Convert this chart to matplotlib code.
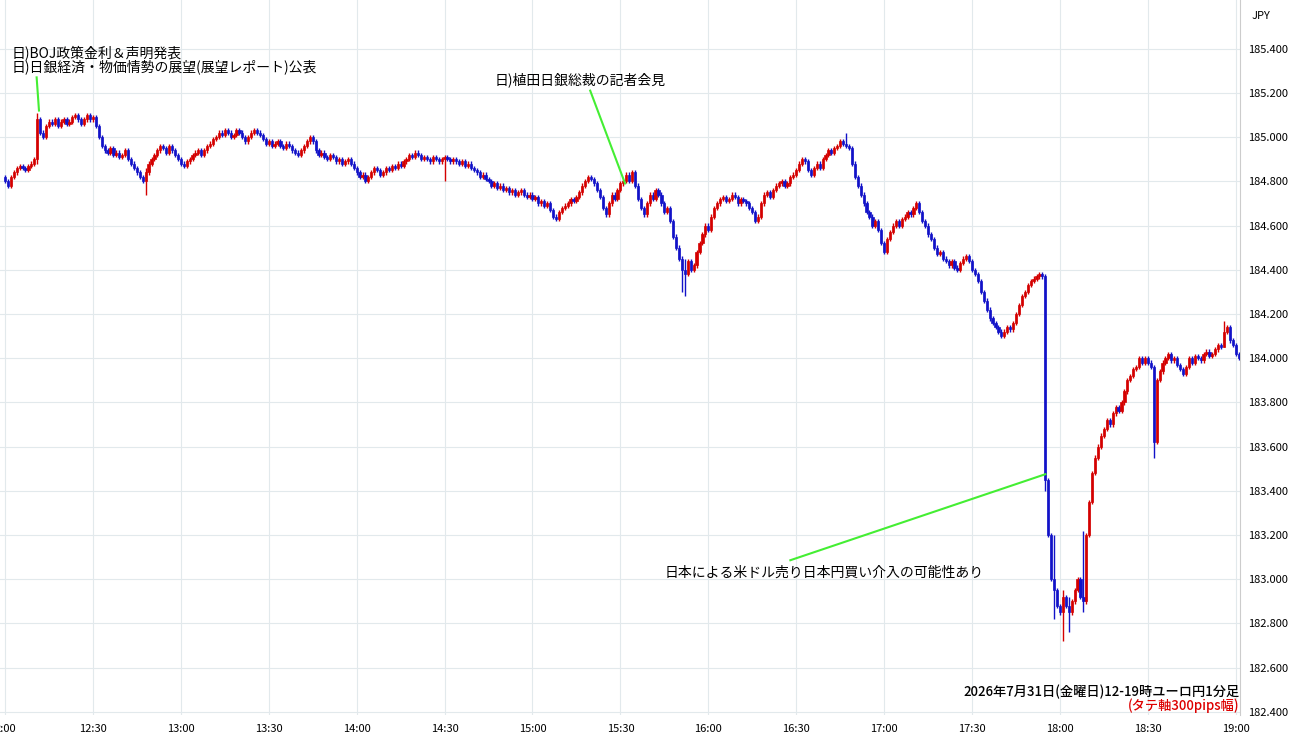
import numpy as np
import matplotlib.pyplot as plt

plt.rcParams['font.family'] = ['Noto Sans CJK JP', 'DejaVu Sans']

# 1-minute closes, 12:00 -> 19:01 (one row per 30 minutes)
closes = [
    184.80, 184.78, 184.82, 184.84, 184.86, 184.87, 184.86, 184.85, 184.87, 184.88, 184.90, 185.08, 185.02, 185.00, 185.05, 185.07, 185.06, 185.08, 185.05, 185.07, 185.08, 185.06, 185.07, 185.09, 185.10, 185.08, 185.06, 185.08, 185.10, 185.08,
    185.09, 185.05, 185.00, 184.96, 184.94, 184.93, 184.95, 184.92, 184.93, 184.91, 184.92, 184.94, 184.90, 184.88, 184.86, 184.84, 184.82, 184.80, 184.84, 184.88, 184.90, 184.92, 184.94, 184.96, 184.95, 184.93, 184.96, 184.94, 184.92, 184.90,
    184.88, 184.87, 184.89, 184.90, 184.92, 184.93, 184.94, 184.92, 184.94, 184.96, 184.97, 184.99, 185.00, 185.02, 185.01, 185.03, 185.02, 185.00, 185.01, 185.03, 185.02, 185.00, 184.98, 185.00, 185.02, 185.03, 185.02, 185.01, 184.99, 184.97,
    184.98, 184.96, 184.97, 184.98, 184.96, 184.95, 184.97, 184.96, 184.94, 184.93, 184.92, 184.94, 184.96, 184.98, 185.00, 184.98, 184.94, 184.92, 184.93, 184.91, 184.90, 184.92, 184.91, 184.89, 184.90, 184.88, 184.89, 184.90, 184.88, 184.86,
    184.84, 184.82, 184.83, 184.80, 184.82, 184.84, 184.86, 184.85, 184.83, 184.84, 184.86, 184.85, 184.87, 184.86, 184.88, 184.87, 184.89, 184.90, 184.92, 184.91, 184.93, 184.92, 184.90, 184.91, 184.90, 184.89, 184.91, 184.90, 184.89, 184.90,
    184.91, 184.90, 184.89, 184.90, 184.89, 184.88, 184.89, 184.87, 184.88, 184.86, 184.85, 184.84, 184.82, 184.83, 184.81, 184.80, 184.78, 184.79, 184.77, 184.78, 184.76, 184.77, 184.75, 184.76, 184.74, 184.75, 184.76, 184.74, 184.73, 184.74,
    184.72, 184.73, 184.70, 184.71, 184.69, 184.70, 184.67, 184.64, 184.63, 184.66, 184.68, 184.69, 184.70, 184.72, 184.71, 184.73, 184.75, 184.78, 184.80, 184.82, 184.81, 184.79, 184.76, 184.73, 184.68, 184.65, 184.70, 184.74, 184.72, 184.76,
    184.79, 184.80, 184.83, 184.80, 184.84, 184.78, 184.72, 184.68, 184.65, 184.70, 184.74, 184.72, 184.76, 184.74, 184.70, 184.66, 184.68, 184.62, 184.55, 184.50, 184.45, 184.40, 184.38, 184.44, 184.40, 184.42, 184.48, 184.52, 184.56, 184.60,
    184.58, 184.64, 184.68, 184.70, 184.72, 184.73, 184.71, 184.72, 184.74, 184.73, 184.70, 184.72, 184.71, 184.70, 184.68, 184.66, 184.62, 184.64, 184.70, 184.74, 184.75, 184.73, 184.76, 184.78, 184.79, 184.80, 184.78, 184.79, 184.82, 184.83,
    184.85, 184.88, 184.90, 184.89, 184.85, 184.83, 184.86, 184.88, 184.86, 184.90, 184.92, 184.94, 184.93, 184.95, 184.96, 184.98, 184.97, 184.96, 184.95, 184.88, 184.82, 184.78, 184.74, 184.70, 184.66, 184.64, 184.60, 184.62, 184.58, 184.52,
    184.48, 184.54, 184.57, 184.60, 184.62, 184.60, 184.63, 184.64, 184.66, 184.65, 184.68, 184.70, 184.66, 184.62, 184.60, 184.56, 184.54, 184.50, 184.47, 184.48, 184.45, 184.44, 184.42, 184.44, 184.41, 184.40, 184.43, 184.45, 184.46, 184.44,
    184.40, 184.38, 184.35, 184.30, 184.26, 184.22, 184.18, 184.16, 184.14, 184.12, 184.10, 184.12, 184.14, 184.13, 184.16, 184.20, 184.24, 184.28, 184.30, 184.33, 184.35, 184.36, 184.37, 184.38, 184.37, 183.45, 183.20, 183.00, 182.95, 182.88,
    182.85, 182.92, 182.88, 182.85, 182.90, 182.95, 183.00, 182.92, 182.90, 183.20, 183.35, 183.48, 183.55, 183.60, 183.65, 183.68, 183.72, 183.70, 183.75, 183.78, 183.76, 183.80, 183.85, 183.90, 183.92, 183.95, 183.96, 184.00, 183.98, 184.00,
    183.98, 183.96, 183.62, 183.90, 183.94, 183.98, 184.00, 184.02, 183.99, 184.00, 183.97, 183.95, 183.93, 183.96, 184.00, 183.98, 184.01, 184.00, 183.99, 184.02, 184.03, 184.01, 184.02, 184.04, 184.06, 184.05, 184.12, 184.14, 184.08, 184.06,
    184.02, 184.00,
]
first_open = 184.82
# notable wicks: minute -> (high, low)
wicks = {11: (185.11, 184.88), 48: (184.86, 184.74), 150: (184.92, 184.80),
         231: (184.46, 184.30), 232: (184.45, 184.28), 287: (185.02, 184.95),
         355: (184.38, 183.40), 358: (183.20, 182.82), 361: (182.95, 182.72),
         363: (182.92, 182.76), 368: (183.22, 182.85), 392: (183.97, 183.55),
         416: (184.17, 184.05)}

time_labels = ["2:00", "12:30", "13:00", "13:30", "14:00", "14:30", "15:00",
               "15:30", "16:00", "16:30", "17:00", "17:30", "18:00", "18:30", "19:00"]
price_ticks = [182.4, 182.6, 182.8, 183.0, 183.2, 183.4, 183.6, 183.8, 184.0,
               184.2, 184.4, 184.6, 184.8, 185.0, 185.2, 185.4]

fig = plt.figure(figsize=(13, 7.45), dpi=100)
ax = fig.add_axes([0, 0.04, 0.954, 0.96])

closes = np.array(closes)
opens = np.concatenate([[first_open], closes[:-1]])
t = np.arange(len(closes))
for i in t:
    o, c = opens[i], closes[i]
    col = '#d40000' if c >= o else '#1212c8'
    hi, lo = wicks.get(i, (max(o, c) + 0.01, min(o, c) - 0.01))
    ax.vlines(i, lo, hi, color=col, linewidth=1, zorder=3)
    ax.bar(i, max(abs(c - o), 0.004), bottom=min(o, c), width=0.75, color=col,
           edgecolor=col, linewidth=0.5, zorder=3)

ax.set_xlim(-1.7, 421.5)
ax.set_ylim(182.385, 185.62)
ax.set_xticks(np.arange(0, 421, 30))
ax.set_xticklabels(time_labels, fontsize=8)
ax.yaxis.tick_right()
ax.set_yticks(price_ticks)
ax.set_yticklabels([f"{p:.3f}" for p in price_ticks], fontsize=8)
ax.tick_params(length=0, pad=6)
ax.grid(True, color='#e2e9ec', linewidth=0.8, zorder=0)
for s in ['top', 'left', 'bottom']:
    ax.spines[s].set_visible(False)
ax.spines['right'].set_color('#cccccc')
fig.text(0.97, 0.978, "JPY", fontsize=8, ha='center', va='center')

green = '#44ee33'
ax.plot([10.8, 11.6], [185.27, 185.12], color=green, lw=1.5, zorder=4)
ax.plot([199.7, 211.6], [185.21, 184.79], color=green, lw=1.5, zorder=4)
ax.plot([268, 355], [183.086, 183.475], color=green, lw=1.5, zorder=4)
ax.text(2.3, 185.35, "日)BOJ政策金利＆声明発表\n日)日銀経済・物価情勢の展望(展望レポート)公表",
        fontsize=10, va='center', linespacing=1.0, zorder=5)
ax.text(167, 185.26, "日)植田日銀総裁の記者会見", fontsize=10, va='center', zorder=5)
ax.text(225, 183.03, "日本による米ドル売り日本円買い介入の可能性あり", fontsize=10,
        va='center', zorder=5)
ax.text(421.3, 182.49, "2026年7月31日(金曜日)12-19時ユーロ円1分足", fontsize=9.5,
        ha='right', va='center', fontweight='medium', zorder=5)
ax.text(421.3, 182.43, "(タテ軸300pips幅)", fontsize=9.5, color='#dd0000',
        ha='right', va='center', fontweight='medium', zorder=5)

fig.savefig("out.png", dpi=100)
